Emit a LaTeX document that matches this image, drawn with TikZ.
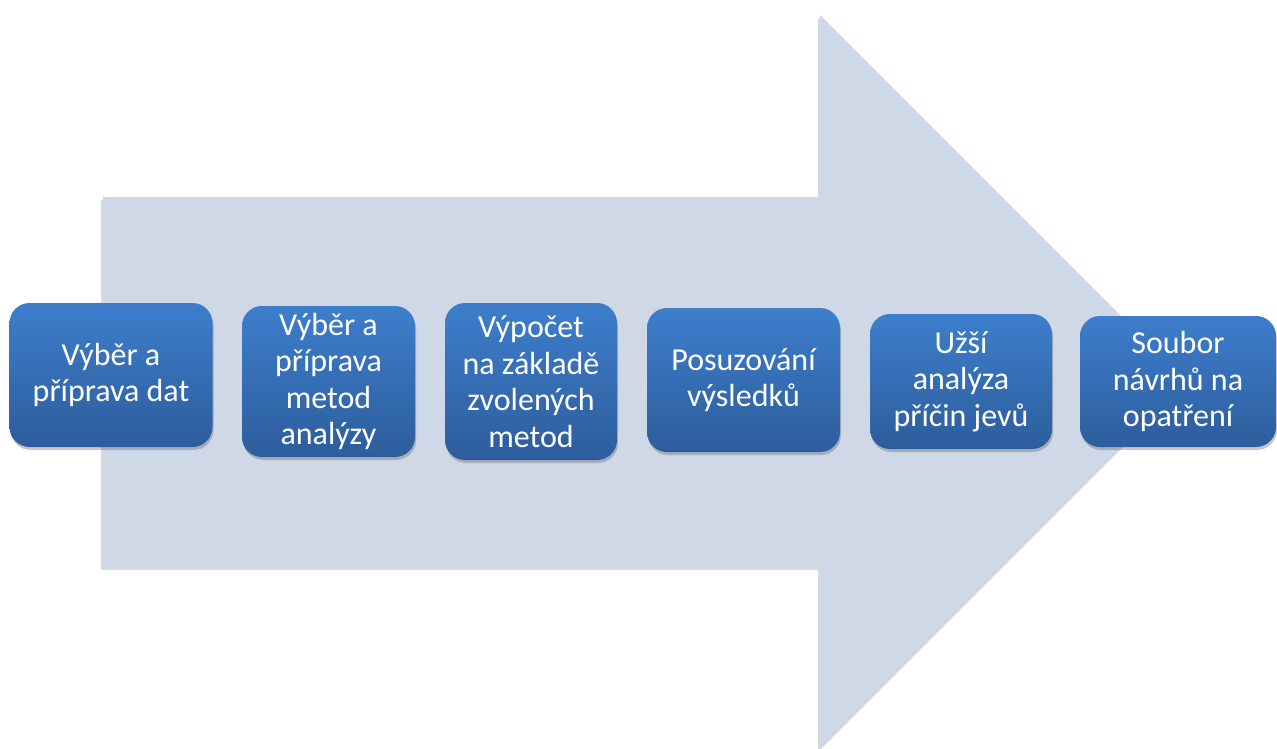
\documentclass[tikz,border=0pt]{standalone}
\usepackage{fontspec}
\setmainfont{Carlito}
\usetikzlibrary{shadows}
\definecolor{arrowfill}{HTML}{CFD8E7}
\definecolor{boxtop}{HTML}{3D7ECC}
\definecolor{boxbottom}{HTML}{2D5D9C}
\tikzset{
  stepbox/.style={
    rectangle, rounded corners=20pt, inner sep=0pt,
    top color=boxtop, bottom color=boxbottom,
    text=white, align=center,
    font=\fontsize{32}{36.5}\selectfont,
    drop shadow={shadow xshift=1pt, shadow yshift=-3pt, opacity=0.3, fill=black!70}
  },
  bigarrow/.style={
    fill=arrowfill,
    drop shadow={shadow xshift=-2pt, shadow yshift=-3pt, opacity=0.25, fill=black!60}
  }
}
\begin{document}
\begin{tikzpicture}[x=1pt, y=-1pt]
  \useasboundingbox (0,0) rectangle (1277,749);
  % the large block arrow in the background
  \path[bigarrow] (103,197) -- (820,197) -- (820,15) -- (1187,382)
    -- (820,749) -- (820,567) -- (103,567) -- cycle;
  % process steps
  \node[stepbox, minimum width=203pt, minimum height=144pt] (b1) at (111,375)
    {Výběr a\\příprava dat};
  \node[stepbox, minimum width=173pt, minimum height=151pt] (b2) at (328.5,381.5)
    {Výběr a\\příprava\\metod\\analýzy};
  \node[stepbox, minimum width=172pt, minimum height=157pt] (b3) at (531,381.5)
    {Výpočet\\na základě\\zvolených\\metod};
  \node[stepbox, minimum width=193pt, minimum height=144pt] (b4) at (743.5,380)
    {Posuzování\\výsledků};
  \node[stepbox, minimum width=182pt, minimum height=135pt] (b5) at (961,381.5)
    {Užší\\analýza\\příčin jevů};
  \node[stepbox, minimum width=196pt, minimum height=131pt] (b6) at (1178,381.5)
    {Soubor\\návrhů na\\opatření};
\end{tikzpicture}
\end{document}
